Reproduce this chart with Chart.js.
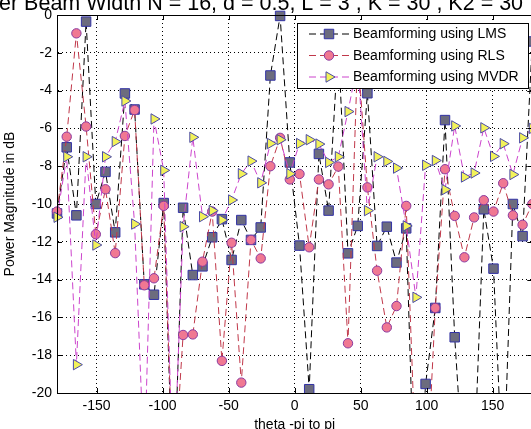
<!DOCTYPE html>
<html><head><meta charset="utf-8">
<script src="https://cdn.jsdelivr.net/npm/chart.js@4/dist/chart.umd.min.js"></script>
<style>html,body{margin:0;padding:0;overflow:hidden;background:#fff;width:531px;height:429px;}canvas{display:block;}</style>
</head><body>
<canvas id="c" width="540" height="434" style="width:540px;height:434px"></canvas>
<script>
// theta in degrees (50 samples from -180 to 180)
const theta = [-180, -172.65, -165.31, -157.96, -150.61, -143.27, -135.92, -128.57, -121.22, -113.88,
  -106.53, -99.18, -91.84, -84.49, -77.14, -69.80, -62.45, -55.10, -47.76, -40.41,
  -33.06, -25.71, -18.37, -11.02, -3.67, 3.67, 11.02, 18.37, 25.71, 33.06,
  40.41, 47.76, 55.10, 62.45, 69.80, 77.14, 84.49, 91.84, 99.18, 106.53,
  113.88, 121.22, 128.57, 135.92, 143.27, 150.61, 157.96, 165.31, 172.65, 180];
const lmsDb = [-10.5, -7.0, -10.6, -0.35, -10.0, -8.3, -11.5, -4.15, -5.0, -14.25,
  -14.8, -9.95, -26, -10.2, -13.76, -13.3, -11.76, -10.8, -12.96, -10.85,
  -11.9, -11.24, -3.2, -0.05, -7.8, -12.2, -19.8, -7.35, -10.35, -1.5,
  -12.61, -11.16, -4.14, -12.22, -11.2, -13.1, -11.29, -28, -19.52, -15.5,
  -5.56, -17.05, -25, -24, -10.28, -13.42, -25, -10.0, -11.7, -1.4];
const rlsDb = [-10.4, -6.44, -0.97, -5.9, -11.6, -9.22, -12.6, -6.4, -5.03, -14.3,
  -13.93, -10.1, -25, -16.93, -16.9, -13.05, -10.4, -18.3, -12.05, -19.45,
  -11.9, -12.88, -8.0, -6.5, -8.7, -8.41, -12.29, -8.7, -8.96, -8.02,
  -17.37, -2.0, -9.12, -13.53, -16.53, -15.4, -10.1, -24, -26, -15.5,
  -8.16, -10.63, -12.82, -10.71, -9.8, -10.4, -8.9, -10.6, -11.1, -10.0];
const mvdrDb = [-10.7, -7.5, -18.5, -7.5, -12.17, -7.5, -6.7, -4.55, -11.06, -24,
  -5.5, -8.22, -25, -11.2, -6.47, -10.67, -10.35, -10.85, -9.79, -8.4,
  -7.73, -8.88, -6.8, -6.6, -8.4, -6.8, -6.6, -6.83, -7.8, -7.5,
  -5.11, -2.5, -10.35, -7.5, -7.75, -8.1, -11.16, -14.94, -7.95, -7.7,
  -9.24, -5.87, -8.57, -8.36, -5.97, -7.48, -6.81, -8.44, -6.5, -6.0];
const xTicks = [-150, -100, -50, 0, 50, 100, 150];
const yTicks = [-20, -18, -16, -14, -12, -10, -8, -6, -4, -2, 0];
const seriesNames = ['Beamforming using LMS', 'Beamforming using RLS', 'Beamforming using MVDR'];
const titleText = 'er Beam Width N = 16, d = 0.5, L = 3 , K = 30 , K2 = 30';
const xTitle = 'theta -pi to pi';
const yTitle = 'Power Magnitude in dB';

const FONT = "'Liberation Sans', Arial, sans-serif";
const toPts = arr => theta.map((t, i) => ({x: t, y: arr[i]}));
const clipOpt = {left: 8, top: 8, right: 8, bottom: 0};

const frame = {
  id: 'frame',
  afterDatasetsDraw(chart) {
    const {ctx, chartArea: a, scales: {x, y}} = chart;
    ctx.save();
    ctx.strokeStyle = '#000'; ctx.lineWidth = 1; ctx.setLineDash([]);
    ctx.strokeRect(Math.round(a.left) + 0.5, Math.round(a.top) + 0.5, Math.round(a.right - a.left), Math.round(a.bottom - a.top));
    ctx.beginPath();
    xTicks.forEach(v => {
      const px = Math.round(x.getPixelForValue(v)) + 0.5;
      ctx.moveTo(px, a.bottom); ctx.lineTo(px, a.bottom - 5);
      ctx.moveTo(px, a.top); ctx.lineTo(px, a.top + 5);
    });
    yTicks.forEach(v => {
      const py = Math.round(y.getPixelForValue(v)) + 0.5;
      ctx.moveTo(a.left, py); ctx.lineTo(a.left + 5, py);
      ctx.moveTo(a.right, py); ctx.lineTo(a.right - 5, py);
    });
    ctx.stroke();
    ctx.restore();
  },
  afterDraw(chart) {
    const ctx = chart.ctx;
    ctx.save();
    // legend box
    const bx = 297.5, by = 23.5, bw = 231, bh = 65;
    ctx.fillStyle = '#fff';
    ctx.fillRect(bx, by, bw, bh);
    ctx.strokeStyle = '#000'; ctx.lineWidth = 1;
    ctx.strokeRect(bx, by, bw, bh);
    const rows = [34, 55.5, 77];
    chart.data.datasets.forEach((ds, i) => {
      const yy = rows[i];
      ctx.save();
      ctx.strokeStyle = ds.borderColor; ctx.lineWidth = 1;
      ctx.setLineDash(ds.borderDash);
      ctx.beginPath(); ctx.moveTo(309, yy); ctx.lineTo(350, yy); ctx.stroke();
      ctx.setLineDash([]);
      ctx.fillStyle = ds.pointBackgroundColor; ctx.strokeStyle = ds.pointBorderColor;
      Chart.helpers.drawPoint(ctx, {pointStyle: ds.pointStyle, rotation: ds.pointRotation || 0, radius: ds.pointRadius, borderWidth: 1}, 329, yy);
      ctx.restore();
      ctx.fillStyle = '#000'; ctx.font = '14px ' + FONT; ctx.textBaseline = 'middle'; ctx.textAlign = 'left';
      ctx.fillText(ds.label, 353, yy + 0.5);
    });
    // title (cropped at top in the reference)
    ctx.fillStyle = '#000'; ctx.font = '21.5px ' + FONT; ctx.textBaseline = 'alphabetic'; ctx.textAlign = 'left';
    ctx.fillText(titleText, -1, 10);
    ctx.restore();
  }
};

new Chart(document.getElementById('c'), {
  type: 'line',
  data: {
    datasets: [
      {label: seriesNames[0], data: toPts(lmsDb), borderColor: '#000000', borderWidth: 1, borderDash: [7, 4],
       pointStyle: 'rect', pointRadius: 6.7, pointBackgroundColor: '#6c6c7e', pointBorderColor: '#3333a6', pointBorderWidth: 1,
       order: 3, clip: clipOpt, tension: 0, fill: false},
      {label: seriesNames[1], data: toPts(rlsDb), borderColor: '#c0384a', borderWidth: 1, borderDash: [7, 4],
       pointStyle: 'circle', pointRadius: 4.7, pointBackgroundColor: '#f07892', pointBorderColor: '#8a3aa0', pointBorderWidth: 1,
       order: 2, clip: clipOpt, tension: 0, fill: false},
      {label: seriesNames[2], data: toPts(mvdrDb), borderColor: '#cc44cc', borderWidth: 1, borderDash: [7, 4],
       pointStyle: 'triangle', pointRotation: 90, pointRadius: 6, pointBackgroundColor: '#f2f25a', pointBorderColor: '#4a4aa6', pointBorderWidth: 1,
       order: 1, clip: clipOpt, tension: 0, fill: false}
    ]
  },
  options: {
    responsive: false, animation: false, events: [],
    layout: {padding: {left: 0, top: 15, right: 6, bottom: 0}},
    plugins: {legend: {display: false}, title: {display: false}, tooltip: {enabled: false}},
    scales: {
      x: {
        type: 'linear', min: -180, max: 180,
        afterBuildTicks: s => { s.ticks = xTicks.map(v => ({value: v})); },
        afterFit: s => { s.height = 41; },
        grid: {color: '#000', lineWidth: 1, drawTicks: false},
        border: {display: true, color: '#000', width: 1, dash: [1, 3]},
        ticks: {color: '#000', font: {family: FONT, size: 14}, padding: 5, maxRotation: 0},
        title: {display: true, text: xTitle, color: '#000', font: {family: FONT, size: 14}, padding: {top: 0, bottom: 0}}
      },
      y: {
        type: 'linear', min: -20, max: 0,
        afterBuildTicks: s => { s.ticks = yTicks.map(v => ({value: v})); },
        afterFit: s => { s.width = 57; },
        grid: {color: '#000', lineWidth: 1, drawTicks: false},
        border: {display: true, color: '#000', width: 1, dash: [1, 3]},
        ticks: {color: '#000', font: {family: FONT, size: 14}, padding: 5},
        title: {display: true, text: yTitle, color: '#000', font: {family: FONT, size: 14}, padding: {top: 2, bottom: 0}}
      }
    }
  },
  plugins: [frame]
});
</script>
</body></html>
